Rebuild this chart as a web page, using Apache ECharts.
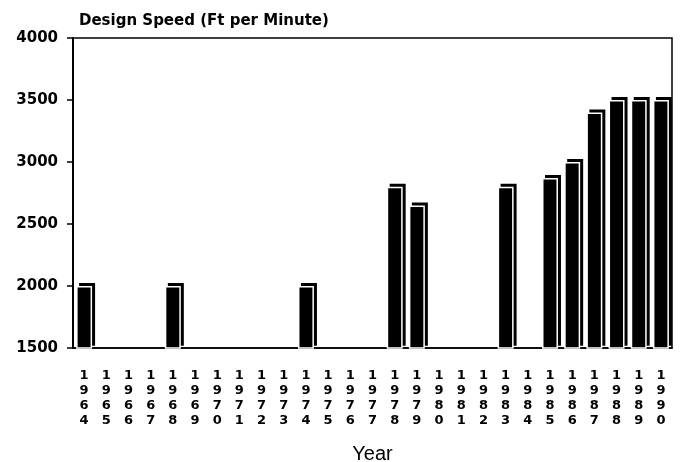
<!DOCTYPE html>
<html><head><meta charset="utf-8">
<script src="https://cdn.jsdelivr.net/npm/echarts@6/dist/echarts.min.js"></script>
<style>html,body{margin:0;padding:0;background:#fff}#c{width:680px;height:462px}</style>
</head><body><div id="c"></div>
<script>
const years = ['1964','1965','1966','1967','1968','1969','1970','1971','1972','1973','1974','1975','1976','1977','1978','1979','1980','1981','1982','1983','1984','1985','1986','1987','1988','1989','1990'];
const speed = [2000,1500,1500,1500,2000,1500,1500,1500,1500,1500,2000,1500,1500,1500,2800,2650,1500,1500,1500,2800,1500,2870,3000,3400,3500,3500,3500];
const yTicks = [1500,2000,2500,3000,3500,4000];

const chart = echarts.init(document.getElementById('c'));
chart.setOption({
  animation:false,
  backgroundColor:'#fff',
  title:{text:'Design Speed (Ft per Minute)',left:74,top:9,textStyle:{fontFamily:'DejaVu Sans',fontWeight:'bold',fontSize:15,color:'#000'}},
  grid:{left:73,right:8,top:38,bottom:114,outerBoundsMode:'none',containLabel:false,show:true,borderColor:'#000',borderWidth:1.5,backgroundColor:'transparent'},
  xAxis:{type:'category',data:years,
    axisLine:{lineStyle:{color:'#000',width:1.5}},
    axisTick:{alignWithLabel:true,length:6,lineStyle:{color:'#000',width:1.5}},
    axisLabel:{interval:0,margin:20,color:'#000',
      formatter:v=>v.split('').map(d=>'{d|'+d+'}').join('\n'),
      rich:{d:{fontFamily:'DejaVu Sans',fontWeight:'bold',fontSize:13,lineHeight:15,color:'#000'}}},
    name:'Year',nameLocation:'middle',nameGap:96,nameTextStyle:{fontFamily:'Liberation Sans',fontSize:20,color:'#000'}
  },
  yAxis:{type:'value',min:1500,max:4000,interval:500,
    axisLine:{show:true,lineStyle:{color:'#000',width:2}},
    axisTick:{show:true,length:6,lineStyle:{color:'#000',width:1.5}},
    splitLine:{show:false},
    axisLabel:{margin:15,fontFamily:'DejaVu Sans',fontWeight:'bold',fontSize:15,color:'#000',
      formatter:v=>yTicks.includes(v)?String(v):''}
  },
  series:[{type:'bar',data:speed,barWidth:'72%',barMinHeight:3,
    itemStyle:{color:'#000',borderColor:'#fff',borderWidth:1.5,shadowColor:'#000',shadowBlur:0,shadowOffsetX:3,shadowOffsetY:-3}
  }]
});
</script></body></html>
